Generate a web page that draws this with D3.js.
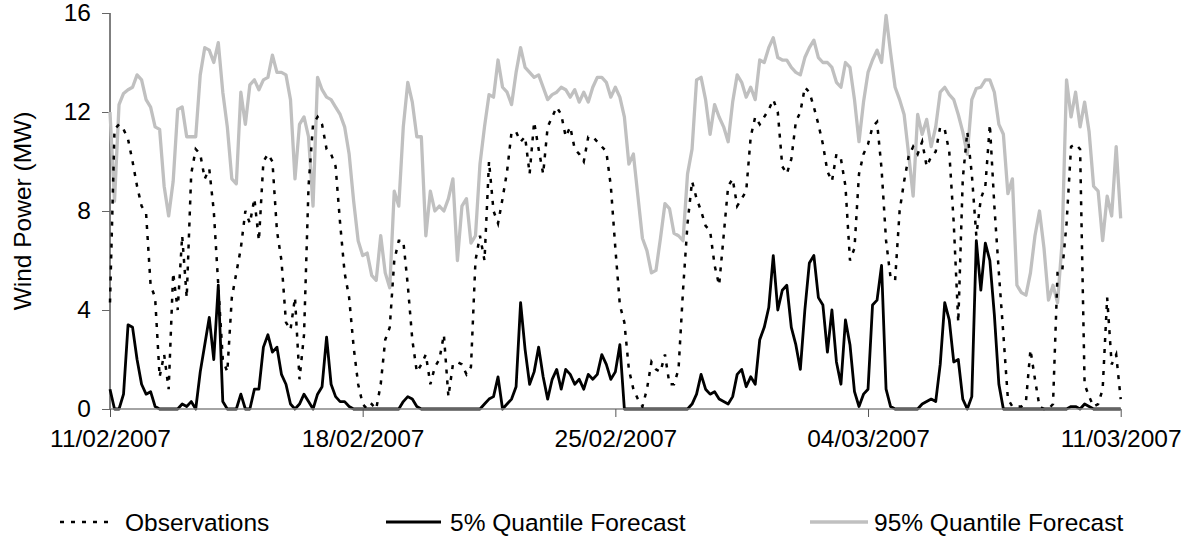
<!DOCTYPE html>
<html><head><meta charset="utf-8">
<script src="https://cdn.jsdelivr.net/npm/d3@7"></script>
<style>body{margin:0;background:#fff;} text{font-family:"Liberation Sans",Arial,sans-serif;fill:#000;}</style>
</head><body><svg id="c" width="1192" height="545"></svg>
<script>
// ---- data (3-hourly samples from 11/02/2007 00:00) ----
const startDate = "11/02/2007";
const endDate = "11/03/2007";
const stepHours = 3;
const observations = [
4.3,11.3,11.5,11.3,10.9,10.0,9.0,8.2,7.9,5.0,4.5,1.3,2.2,0.8,5.5,4.0,7.0,4.5,9.5,10.5,
10.3,9.3,9.7,8.0,5.0,2.0,1.5,4.5,5.5,6.5,8.0,7.5,8.5,6.8,10.0,10.3,10.0,7.2,6.0,3.5,
3.2,4.5,1.2,3.0,9.0,11.5,11.8,11.5,10.5,10.3,9.8,7.5,5.5,4.5,2.5,1.0,0.2,0.0,0.2,0.0,
1.0,2.8,3.3,6.0,6.8,6.8,5.0,2.8,1.5,1.8,2.2,1.0,1.7,2.0,3.0,0.5,1.8,1.9,1.8,1.4,
1.7,6.0,7.0,6.0,10.0,8.0,7.5,8.5,9.6,11.2,11.2,10.8,11.0,9.5,11.6,10.5,9.5,11.4,11.8,12.2,
11.9,11.0,11.4,10.5,10.3,10.0,11.0,11.0,10.8,10.6,10.4,9.0,6.5,4.2,3.5,1.6,0.8,0.4,0.1,0.8,
1.9,1.6,1.5,2.2,1.0,1.0,1.6,4.8,7.5,9.2,8.5,8.0,7.4,7.2,5.8,5.0,7.0,9.0,9.3,8.2,
8.5,8.8,11.0,11.8,11.5,11.8,12.1,12.5,12.0,9.8,9.5,10.1,11.6,12.0,13.0,12.8,12.2,11.5,10.7,9.6,
9.2,10.3,10.1,9.0,6.0,6.5,9.5,10.3,10.7,11.4,11.6,9.7,6.8,5.3,5.2,8.0,9.2,10.2,10.6,10.3,
10.8,9.8,10.2,10.4,11.4,11.3,10.4,7.5,3.5,9.3,11.2,9.5,7.0,8.5,9.0,11.5,8.2,5.5,3.0,0.4,
0.1,0.1,0.1,0.3,2.4,1.2,0.1,0.0,0.0,0.2,5.5,5.5,7.5,10.6,10.7,10.5,1.0,0.5,0.1,0.2,
0.8,4.5,1.8,2.2,0.4
];
const quantile05 = [
0.8,0.0,0.0,0.6,3.4,3.3,2.0,1.0,0.6,0.7,0.1,0.0,0.0,0.0,0.0,0.0,0.2,0.1,0.3,0.0,
1.5,2.6,3.7,2.0,5.0,0.3,0.0,0.0,0.0,0.6,0.0,0.0,0.8,0.8,2.5,3.0,2.3,2.5,1.4,1.0,
0.2,0.0,0.2,0.6,0.3,0.0,0.6,0.9,2.9,1.0,0.5,0.3,0.3,0.1,0.0,0.0,0.0,0.0,0.0,0.0,
0.0,0.0,0.0,0.0,0.0,0.3,0.5,0.4,0.1,0.0,0.0,0.0,0.0,0.0,0.0,0.0,0.0,0.0,0.0,0.0,
0.0,0.0,0.0,0.2,0.4,0.5,1.3,0.0,0.2,0.4,0.9,4.3,2.4,1.0,1.5,2.5,1.3,0.4,1.2,1.6,
0.8,1.6,1.4,1.0,1.2,0.8,1.4,1.2,1.4,2.2,1.8,1.2,1.5,2.6,0.0,0.0,0.0,0.0,0.0,0.0,
0.0,0.0,0.0,0.0,0.0,0.0,0.0,0.0,0.0,0.2,0.6,1.4,0.8,0.6,0.7,0.4,0.3,0.2,0.5,1.4,
1.6,0.9,1.3,1.0,2.8,3.3,4.1,6.2,4.0,4.8,5.0,3.3,2.6,1.6,4.0,5.9,6.2,4.5,4.2,2.3,
4.0,1.9,1.0,3.6,2.6,0.7,0.1,0.6,0.8,4.2,4.4,5.8,0.8,0.1,0.0,0.0,0.0,0.0,0.0,0.0,
0.2,0.3,0.4,0.3,1.8,4.3,3.6,1.9,2.0,0.4,0.0,0.5,6.8,4.8,6.7,6.0,3.8,1.0,0.0,0.0,
0.0,0.0,0.0,0.0,0.0,0.0,0.0,0.0,0.0,0.0,0.0,0.0,0.0,0.1,0.1,0.0,0.2,0.1,0.0,0.0,
0.0,0.0,0.0,0.0,0.0
];
const quantile95 = [
12.0,8.4,12.3,12.75,12.9,13.0,13.5,13.3,12.5,12.2,11.4,11.3,9.0,7.8,9.2,12.1,12.2,11.0,11.0,11.0,
13.5,14.6,14.5,14.0,14.8,12.8,11.4,9.3,9.1,12.8,11.5,13.1,13.3,12.9,13.3,13.4,14.3,13.6,13.6,13.5,
12.5,9.3,11.5,11.8,11.0,8.2,13.4,12.9,12.6,12.5,12.2,11.9,11.4,10.3,8.4,6.8,6.2,6.3,5.4,5.2,
7.0,5.5,4.9,8.8,8.2,11.4,13.2,12.4,11.0,11.0,7.0,8.8,8.0,8.2,8.0,8.5,9.3,6.0,8.2,8.5,
6.7,7.0,9.9,11.4,12.7,12.6,14.1,13.0,12.8,12.3,13.6,14.6,13.8,13.6,13.4,13.5,13.0,12.5,12.7,12.8,
13.0,12.9,12.6,12.9,12.4,12.8,12.4,13.0,13.4,13.4,13.2,12.6,13.0,12.6,11.8,9.9,10.3,8.6,6.9,6.4,
5.5,5.6,6.9,8.3,8.1,7.1,7.0,6.8,9.5,10.5,13.3,13.4,12.5,11.1,12.3,11.8,11.4,10.8,12.4,13.5,
13.2,12.6,13.0,12.5,14.1,14.0,14.6,15.0,14.2,14.1,14.1,13.8,13.6,13.5,14.2,14.6,14.9,14.2,14.0,14.0,
13.8,13.2,13.0,14.0,13.8,12.5,10.8,12.4,13.6,14.1,14.5,14.0,15.9,14.4,13.0,12.5,11.9,10.3,8.6,11.9,
11.1,11.7,10.6,11.4,12.8,13.0,12.7,12.5,11.9,11.2,10.3,12.5,12.95,13.0,13.3,13.3,12.8,11.5,11.1,8.7,
9.3,5.0,4.7,4.6,5.5,7.0,8.0,6.5,4.4,5.0,4.3,6.7,13.3,11.8,12.8,11.4,12.4,11.2,9.0,8.8,
6.8,8.6,7.8,10.6,7.7
];
const xTickLabels = ["11/02/2007","18/02/2007","25/02/2007","04/03/2007","11/03/2007"];
const yTickValues = [0,4,8,12,16];
const yAxisTitle = "Wind Power (MW)";
const seriesNames = ["Observations","5% Quantile Forecast","95% Quantile Forecast"];

// ---- chart ----
const parse = d3.utcParse("%d/%m/%Y");
const t0 = parse(startDate);
const svg = d3.select("#c");
const fs = 24.5;
const ff = "Liberation Sans, Arial, sans-serif";
const x = d3.scaleUtc().domain([t0, parse(endDate)]).range([110, 1120.7]);
const y = d3.scaleLinear().domain([0, 16]).range([409, 13]);
const timeOf = i => new Date(t0.getTime() + i * stepHours * 3600e3);
const line = d3.line().x((d, i) => x(timeOf(i))).y(d => y(d));
const obsDash = "4,7";

// y axis
const yAxis = svg.append("g").attr("transform", "translate(110,0)")
  .call(d3.axisLeft(y).tickValues(yTickValues).tickSize(8).tickPadding(11).tickFormat(d3.format("d")));
yAxis.select(".domain").attr("stroke", "#000").attr("d", "M0,13V409");
yAxis.selectAll(".tick line").attr("stroke", "#666");
yAxis.selectAll(".tick text").attr("font-size", fs).attr("font-family", ff);

// series
svg.append("path").datum(quantile95).attr("d", line).attr("fill", "none")
  .attr("stroke", "#c0c0c0").attr("stroke-width", 3.3).attr("stroke-linejoin", "round");
svg.append("path").datum(quantile05).attr("d", line).attr("fill", "none")
  .attr("stroke", "#000").attr("stroke-width", 2.8).attr("stroke-linejoin", "round");
svg.append("path").datum(observations).attr("d", line).attr("fill", "none")
  .attr("stroke", "#000").attr("stroke-width", 2.5).attr("stroke-dasharray", obsDash);

// x axis
const xAxis = svg.append("g").attr("transform", "translate(0,409)")
  .call(d3.axisBottom(x).tickValues(xTickLabels.map(parse)).tickSize(8).tickPadding(13)
    .tickFormat((d, i) => xTickLabels[i]));
xAxis.select(".domain").attr("stroke", "#868686").attr("stroke-width", 1.5).attr("d", "M110,0H1120.7");
xAxis.selectAll(".tick line").attr("stroke", "#555");
xAxis.selectAll(".tick text").attr("font-size", fs).attr("font-family", ff);

// y title
svg.append("text").attr("transform", "translate(31,211) rotate(-90)")
  .attr("text-anchor", "middle").attr("font-size", fs).text(yAxisTitle);

// legend
const legend = [
  {x1: 60, x2: 108, tx: 125, stroke: "#000", w: 2.5, dash: obsDash},
  {x1: 386, x2: 441, tx: 450, stroke: "#000", w: 2.8, dash: null},
  {x1: 810, x2: 868, tx: 874, stroke: "#c0c0c0", w: 3.3, dash: null}
];
const ly = 522;
legend.forEach((l, i) => {
  svg.append("line").attr("x1", l.x1).attr("x2", l.x2).attr("y1", ly).attr("y2", ly)
    .attr("stroke", l.stroke).attr("stroke-width", l.w).attr("stroke-dasharray", l.dash);
  svg.append("text").attr("x", l.tx).attr("y", ly).attr("dy", "0.35em")
    .attr("font-size", fs).text(seriesNames[i]);
});
</script></body></html>
